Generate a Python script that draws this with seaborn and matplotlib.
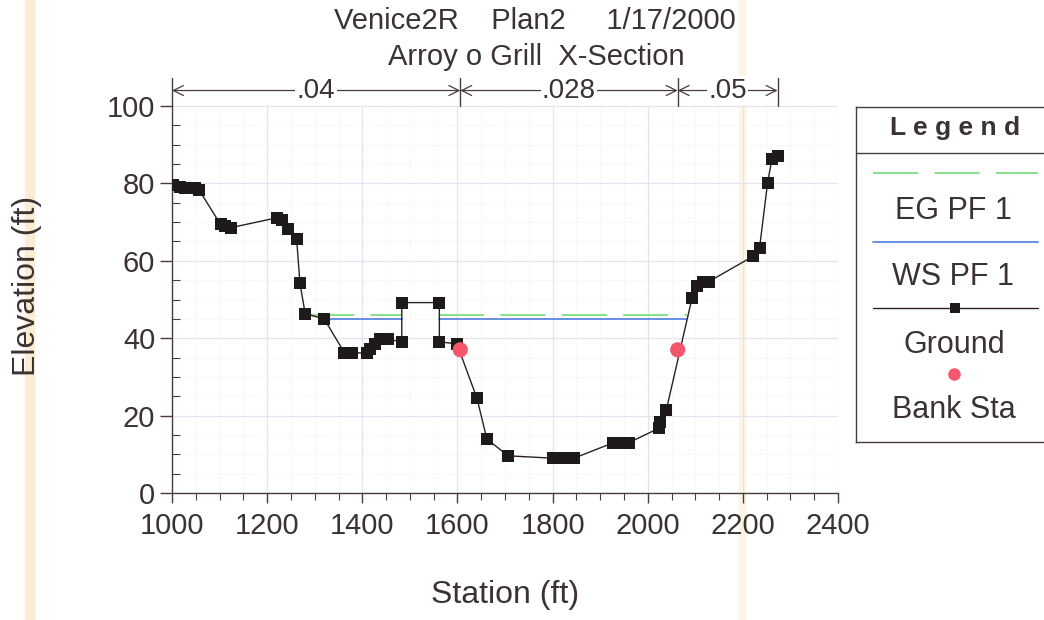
import numpy as np
import pandas as pd
import seaborn as sns
import matplotlib.pyplot as plt
from matplotlib.ticker import MultipleLocator

# ground profile (station ft, elevation ft)
station = [1003, 1017, 1027, 1038, 1048, 1057, 1102, 1111, 1125, 1220, 1231, 1243,
           1262, 1269, 1280, 1320, 1362, 1378, 1410, 1416, 1427, 1437, 1448, 1454,
           1483, 1483, 1562, 1562, 1599, 1641, 1662, 1707, 1800, 1815, 1830, 1845,
           1928, 1946, 1960, 2023, 2026, 2039, 2093, 2103, 2117, 2128, 2222, 2235,
           2252, 2261, 2273]
elevation = [79.6, 79.1, 78.9, 78.9, 78.7, 78.3, 69.4, 69.0, 68.6, 71.1, 70.5, 68.2,
             65.6, 54.2, 46.3, 45.0, 36.3, 36.3, 36.1, 37.1, 38.5, 39.7, 39.9, 39.7,
             39.1, 49.2, 49.2, 39.1, 38.5, 24.5, 13.9, 9.6, 9.0, 9.0, 9.0, 9.0,
             13.0, 13.0, 13.0, 16.7, 18.4, 21.4, 50.3, 53.6, 54.6, 54.6, 61.2, 63.2,
             80.2, 86.2, 87.1]

# bank stations
bank_sta = [1606, 2063]
bank_elev = [37.0, 37.0]

# water surface / energy grade (segments split by the high ground)
ws_sta = [1315, 1483, np.nan, 1562, 2081]
ws_elev = [45.0, 45.0, np.nan, 45.0, 45.0]
eg_sta = [1287, 1483, np.nan, 1562, 2082]
eg_elev = [46.1, 46.1, np.nan, 46.1, 46.1]

# manning's n breaks
n_breaks = [1000, 1606, 2063, 2273]
n_values = ['.04', '.028', '.05']

ground = pd.DataFrame({'station': station, 'elevation': elevation})

sns.set_theme(style='white')
plt.rcParams['font.family'] = ['Liberation Sans', 'DejaVu Sans']
txt = '#3b3232'
ax_col = '#4a3c3c'
eg_col = '#7ddf7d'
ws_col = '#5b86e0'
bank_col = '#f4566c'

fig = plt.figure(figsize=(10.44, 6.2), dpi=100)
ax = fig.add_axes([172/1044, 1 - 493/620, (838 - 172)/1044, (493 - 106)/620])

# scan stripes
fig.patches.append(plt.Rectangle((25/1044, 0), 9/1044, 1, transform=fig.transFigure,
                                 color='#fcecd4', zorder=-10))
fig.patches.append(plt.Rectangle((739/1044, 0), 6/1044, 1, transform=fig.transFigure,
                                 color='#fdf4e4', zorder=-10))
ax.patch.set_alpha(0)

ax.plot(eg_sta, eg_elev, color=eg_col, lw=1.3, dashes=(25, 9), zorder=2)
ax.plot(ws_sta, ws_elev, color=ws_col, lw=1.3, zorder=2)
sns.lineplot(data=ground, x='station', y='elevation', sort=False, estimator=None,
             color='#2a2020', lw=1, marker='s', markersize=8, markeredgewidth=0,
             markerfacecolor='#1e1a1a', ax=ax, zorder=3)
sns.scatterplot(x=bank_sta, y=bank_elev, color=bank_col, s=120, edgecolor='none',
                ax=ax, zorder=4)

ax.set_xlim(1000, 2400)
ax.set_ylim(0, 100)
ax.xaxis.set_major_locator(MultipleLocator(200))
ax.xaxis.set_minor_locator(MultipleLocator(50))
ax.yaxis.set_major_locator(MultipleLocator(20))
ax.yaxis.set_minor_locator(MultipleLocator(5))
ax.grid(which='major', color='#e2e5ef', lw=0.9)
ax.grid(which='minor', color='#eceef5', lw=0.7, ls=':')
for s in ['top', 'right']:
    ax.spines[s].set_visible(False)
for s in ['left', 'bottom']:
    ax.spines[s].set_color(ax_col)
    ax.spines[s].set_linewidth(1)
ax.tick_params(axis='x', which='major', direction='out', length=7, width=1,
               color=ax_col, labelsize=21, labelcolor=txt, pad=7, bottom=True)
ax.tick_params(axis='x', which='minor', direction='out', length=5, width=0.8,
               color=ax_col, bottom=True)
ax.tick_params(axis='y', which='major', direction='out', length=9, width=1,
               color=ax_col, labelsize=21, labelcolor=txt, pad=3, left=True)
ax.tick_params(axis='y', which='minor', direction='in', length=6, width=0.8,
               color=ax_col, left=True)
ax.set_xlabel('Station (ft)', fontsize=23, color=txt)
ax.set_ylabel('Elevation (ft)', fontsize=23, color=txt)
ax.xaxis.set_label_coords(0.5, -0.225)
ax.yaxis.set_label_coords(-0.195, 0.535)

# titles
fig.text(535/1044, 1 - 21/620, 'Venice2R    Plan2     1/17/2000', ha='center', va='center',
         fontsize=21, color=txt)
fig.text(536/1044, 1 - 57/620, 'Arroy o Grill  X-Section', ha='center', va='center',
         fontsize=21, color=txt)

# manning's n bar
for xb in n_breaks:
    ax.plot([xb, xb], [100, 107.3], color=ax_col, lw=1, clip_on=False)
for i, nv in enumerate(n_values):
    x0, x1 = n_breaks[i], n_breaks[i + 1]
    ax.annotate('', xy=(x0, 104), xytext=(x1, 104), xycoords='data',
                arrowprops=dict(arrowstyle='<->', color=ax_col, lw=0.9,
                                shrinkA=0, shrinkB=0, mutation_scale=18),
                annotation_clip=False)
    ax.text((x0 + x1) / 2, 104, nv, ha='center', va='center', fontsize=20, color=txt,
            bbox=dict(facecolor='white', edgecolor='none', pad=1), clip_on=False)

# legend panel
lax = fig.add_axes([856/1044, 1 - 442/620, 200/1044, (442 - 107)/620])
lax.set_xlim(0, 200)
lax.set_ylim(442, 107)
lax.set_xticks([])
lax.set_yticks([])
lax.patch.set_facecolor('white')
for s in lax.spines.values():
    s.set_color(ax_col)
    s.set_linewidth(1)
lax.axhline(153, color=ax_col, lw=1)
lax.text(99, 128, 'L e g e n d', ha='center', va='center', fontsize=19,
         fontweight='bold', color=txt)
lax.plot([17, 182], [173, 173], color=eg_col, lw=1.3, dashes=(25, 9))
lax.text(97, 211, 'EG PF 1', ha='center', va='center', fontsize=22, color=txt)
lax.plot([17, 182], [242, 242], color=ws_col, lw=1.3)
lax.text(97, 277, 'WS PF 1', ha='center', va='center', fontsize=22, color=txt)
lax.plot([17, 182], [308, 308], color='#2a2020', lw=1)
lax.plot([99], [308], marker='s', color='#1e1a1a', markersize=7, markeredgewidth=0)
lax.text(98, 345, 'Ground', ha='center', va='center', fontsize=22, color=txt)
lax.plot([98], [374], marker='o', color=bank_col, markersize=9, markeredgewidth=0)
lax.text(98, 410, 'Bank Sta', ha='center', va='center', fontsize=22, color=txt)

fig.savefig('out.png', dpi=100)
